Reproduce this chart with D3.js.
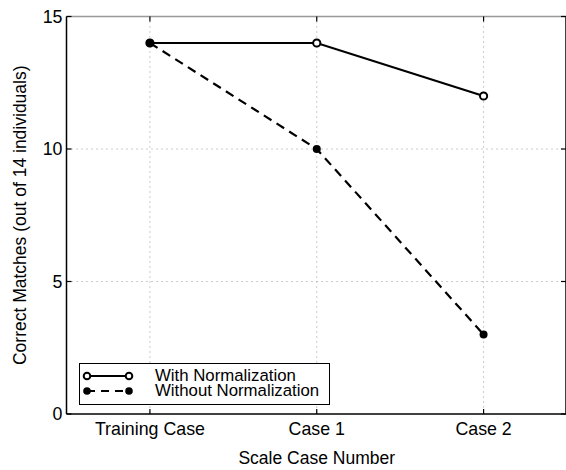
<!DOCTYPE html>
<html>
<head>
<meta charset="utf-8">
<script src="https://cdn.jsdelivr.net/npm/d3@7"></script>
<style>
  body { margin: 0; background: #fff; }
  svg { display: block; font-family: "Liberation Sans", Arial, sans-serif; }
</style>
</head>
<body>
<div id="chart"></div>
<script>
var categories = ["Training Case", "Case 1", "Case 2"];
var withNorm = [14, 14, 12];
var withoutNorm = [14, 10, 3];
var yTicks = [0, 5, 10, 15];
var seriesNames = ["With Normalization", "Without Normalization"];

var width = 566, height = 470;
var plotLeft = 66.5, plotRight = 567, plotTop = 16.5, plotBottom = 414;

var svg = d3.select("#chart").append("svg")
  .attr("width", width)
  .attr("height", height);

var x = d3.scaleLinear().domain([0.5, 3.5]).range([plotLeft, plotRight]);
var y = d3.scaleLinear().domain([0, 15]).range([plotBottom, plotTop]);

// grid (dotted)
var grid = svg.append("g")
  .attr("stroke", "#999")
  .attr("stroke-width", 1)
  .attr("stroke-dasharray", "1,4");
categories.forEach(function(c, i) {
  grid.append("line")
    .attr("x1", x(i + 1)).attr("x2", x(i + 1))
    .attr("y1", plotTop).attr("y2", plotBottom);
});
yTicks.slice(1, -1).forEach(function(t) {
  grid.append("line")
    .attr("x1", plotLeft).attr("x2", plotRight)
    .attr("y1", y(t)).attr("y2", y(t));
});

// axes box
svg.append("line").attr("x1", plotLeft).attr("x2", plotRight).attr("y1", plotTop).attr("y2", plotTop)
  .attr("stroke", "#999").attr("stroke-width", 1.5);
svg.append("line").attr("x1", plotLeft).attr("x2", plotRight).attr("y1", plotBottom).attr("y2", plotBottom)
  .attr("stroke", "#000").attr("stroke-width", 1.5);
svg.append("line").attr("x1", plotLeft).attr("x2", plotLeft).attr("y1", plotTop).attr("y2", plotBottom)
  .attr("stroke", "#000").attr("stroke-width", 1.5);
svg.append("line").attr("x1", plotRight - 1).attr("x2", plotRight - 1).attr("y1", plotTop).attr("y2", plotBottom)
  .attr("stroke", "#000").attr("stroke-width", 1.5);

// inward ticks
var tickLen = 5;
var ticks = svg.append("g").attr("stroke", "#000").attr("stroke-width", 1.2);
categories.forEach(function(c, i) {
  ticks.append("line").attr("x1", x(i + 1)).attr("x2", x(i + 1))
    .attr("y1", plotBottom).attr("y2", plotBottom - tickLen);
  ticks.append("line").attr("x1", x(i + 1)).attr("x2", x(i + 1))
    .attr("y1", plotTop).attr("y2", plotTop + tickLen);
});
yTicks.forEach(function(t) {
  ticks.append("line").attr("x1", plotLeft).attr("x2", plotLeft + tickLen)
    .attr("y1", y(t)).attr("y2", y(t));
  ticks.append("line").attr("x1", plotRight - 1).attr("x2", plotRight - 1 - tickLen)
    .attr("y1", y(t)).attr("y2", y(t));
});

// tick labels
svg.append("g").selectAll("text")
  .data(categories)
  .enter().append("text")
  .attr("x", function(d, i) { return x(i + 1); })
  .attr("y", 435)
  .attr("text-anchor", "middle")
  .attr("font-size", 17.8)
  .text(function(d) { return d; });

svg.append("g").selectAll("text")
  .data(yTicks)
  .enter().append("text")
  .attr("x", plotLeft - 4)
  .attr("y", function(d) { return y(d) + 6; })
  .attr("text-anchor", "end")
  .attr("font-size", 17.8)
  .text(function(d) { return d; });

// axis titles
svg.append("text")
  .attr("x", x(2))
  .attr("y", 464)
  .attr("text-anchor", "middle")
  .attr("font-size", 17.5)
  .text("Scale Case Number");

svg.append("text")
  .attr("transform", "translate(26," + ((plotTop + plotBottom) / 2) + ") rotate(-90)")
  .attr("text-anchor", "middle")
  .attr("font-size", 17.5)
  .text("Correct Matches (out of 14 individuals)");

// lines
var line = d3.line()
  .x(function(d, i) { return x(i + 1); })
  .y(function(d) { return y(d); });

svg.append("path")
  .datum(withoutNorm)
  .attr("d", line)
  .attr("fill", "none")
  .attr("stroke", "#000")
  .attr("stroke-width", 2.2)
  .attr("stroke-dasharray", "9,6");

svg.append("path")
  .datum(withNorm)
  .attr("d", line)
  .attr("fill", "none")
  .attr("stroke", "#000")
  .attr("stroke-width", 2.2);

svg.append("g").selectAll("circle")
  .data(withNorm)
  .enter().append("circle")
  .attr("cx", function(d, i) { return x(i + 1); })
  .attr("cy", function(d) { return y(d); })
  .attr("r", 3.6)
  .attr("fill", "#fff")
  .attr("stroke", "#000")
  .attr("stroke-width", 2);

svg.append("g").selectAll("circle")
  .data(withoutNorm)
  .enter().append("circle")
  .attr("cx", function(d, i) { return x(i + 1); })
  .attr("cy", function(d) { return y(d); })
  .attr("r", 4)
  .attr("fill", "#000");

// legend
var lg = svg.append("g");
lg.append("rect")
  .attr("x", 79.5).attr("y", 363.5)
  .attr("width", 250).attr("height", 41)
  .attr("fill", "#fff")
  .attr("stroke", "#000")
  .attr("stroke-width", 1);

var rows = [376, 391];
rows.forEach(function(ry, i) {
  lg.append("line")
    .attr("x1", 87).attr("x2", 129)
    .attr("y1", ry).attr("y2", ry)
    .attr("stroke", "#000")
    .attr("stroke-width", 2.2)
    .attr("stroke-dasharray", i === 1 ? "8,6" : null);
  [87, 129].forEach(function(cx) {
    lg.append("circle")
      .attr("cx", cx).attr("cy", ry)
      .attr("r", i === 0 ? 3.3 : 3.8)
      .attr("fill", i === 0 ? "#fff" : "#000")
      .attr("stroke", i === 0 ? "#000" : "none")
      .attr("stroke-width", 2);
  });
  lg.append("text")
    .attr("x", 155)
    .attr("y", ry + 5)
    .attr("font-size", 16.8)
    .text(seriesNames[i]);
});
</script>
</body>
</html>
